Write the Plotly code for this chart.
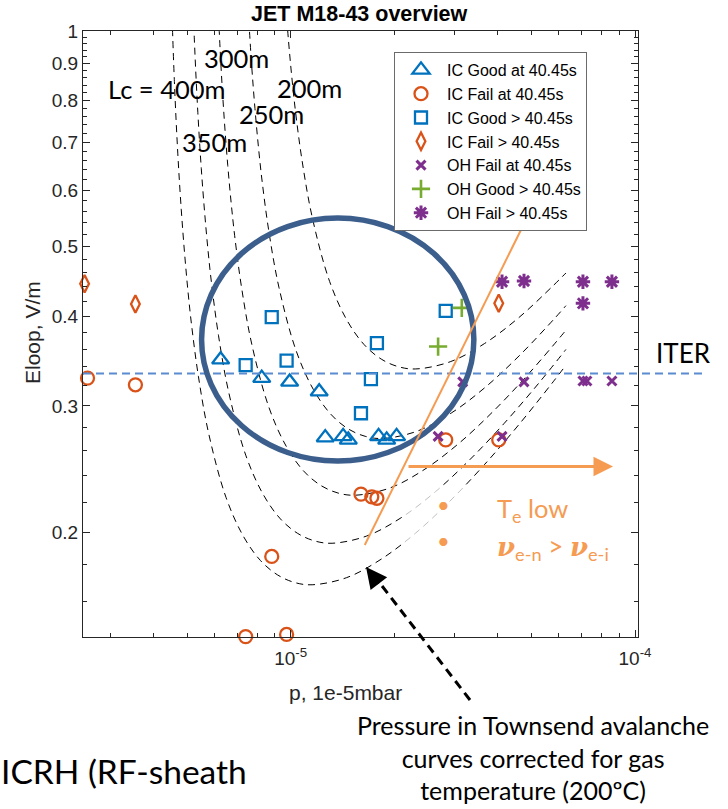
import plotly.graph_objects as go

# ---------------- data ----------------
# Townsend avalanche curves, p [mbar-ish units as on the axis], Eloop [V/m]
LC200_P = [0.9622e-5, 0.9846e-5, 1.0075e-5, 1.031e-5, 1.0795e-5, 1.1568e-5, 1.2978e-5, 1.4563e-5,
           1.6338e-5, 1.8332e-5, 2.0571e-5, 2.308e-5, 2.9055e-5, 3.658e-5, 4.605e-5, 5.797e-5, 6.3e-5]
LC200_E = [1.126, 0.9742, 0.8624, 0.7773, 0.6587, 0.5479, 0.4472, 0.3951,
           0.3653, 0.3486, 0.3402, 0.3378, 0.3457, 0.3666, 0.3986, 0.4418, 0.4597]

LC250_P = [0.7521e-5, 0.7696e-5, 0.7875e-5, 0.8058e-5, 0.8246e-5, 0.8634e-5, 0.9252e-5, 1.038e-5,
           1.1648e-5, 1.3068e-5, 1.4663e-5, 1.6453e-5, 1.846e-5, 2.324e-5, 2.926e-5, 3.683e-5,
           4.637e-5, 5.838e-5, 6.3e-5]
LC250_E = [1.078, 0.9008, 0.7793, 0.6898, 0.6217, 0.5269, 0.4383, 0.3577,
           0.3160, 0.2922, 0.2788, 0.2721, 0.2702, 0.2765, 0.2932, 0.3188,
           0.3534, 0.3972, 0.4139]

LC300_P = [0.6127e-5, 0.6270e-5, 0.6416e-5, 0.6565e-5, 0.6718e-5, 0.6875e-5, 0.7198e-5, 0.7713e-5,
           0.8654e-5, 0.9711e-5, 1.0895e-5, 1.2224e-5, 1.3717e-5, 1.539e-5, 1.9374e-5, 2.4392e-5,
           3.0708e-5, 3.8658e-5, 4.8668e-5, 6.127e-5, 6.3e-5]
LC300_E = [1.134, 0.8985, 0.7508, 0.6495, 0.5749, 0.5182, 0.4391, 0.3653,
           0.2982, 0.2634, 0.2435, 0.2324, 0.2268, 0.2252, 0.2304, 0.2444,
           0.2657, 0.2945, 0.3310, 0.3764, 0.3826]

LC350_P = [0.5131e-5, 0.5251e-5, 0.5374e-5, 0.5499e-5, 0.5627e-5, 0.5757e-5, 0.5892e-5, 0.6169e-5,
           0.6611e-5, 0.7417e-5, 0.8323e-5, 0.9337e-5, 1.0477e-5, 1.1756e-5, 1.319e-5, 1.6605e-5,
           2.0905e-5, 2.6318e-5, 3.3132e-5, 4.1711e-5, 5.2511e-5, 6.3e-5]
LC350_E = [1.341, 0.9718, 0.7701, 0.6435, 0.5566, 0.4927, 0.4441, 0.3764,
           0.3130, 0.2555, 0.2257, 0.2087, 0.1992, 0.1944, 0.1930, 0.1975,
           0.2094, 0.2277, 0.2524, 0.2837, 0.3226, 0.3596]

LC400_P = [0.4489e-5, 0.4594e-5, 0.4701e-5, 0.4811e-5, 0.4923e-5, 0.5037e-5, 0.5155e-5, 0.5397e-5,
           0.5784e-5, 0.6489e-5, 0.7282e-5, 0.8169e-5, 0.9166e-5, 1.0286e-5, 1.154e-5, 1.4528e-5,
           1.829e-5, 2.3026e-5, 2.8987e-5, 3.6493e-5, 4.5942e-5, 5.7837e-5, 6.3e-5]
LC400_E = [1.174, 0.8504, 0.6739, 0.5631, 0.4871, 0.4312, 0.3886, 0.3294,
           0.2740, 0.2236, 0.1975, 0.1826, 0.1743, 0.1701, 0.1689, 0.1728,
           0.1833, 0.1993, 0.2209, 0.2483, 0.2823, 0.3241, 0.3419]

# measurement points
IC_GOOD_AT_P = [6.26e-6, 8.24e-6, 9.93e-6, 1.21e-5, 1.26e-5, 1.42e-5, 1.47e-5, 1.80e-5, 1.90e-5, 2.03e-5]
IC_GOOD_AT_E = [0.348, 0.328, 0.324, 0.314, 0.271, 0.272, 0.269, 0.272, 0.269, 0.272]

IC_FAIL_AT_P = [2.57e-6, 3.54e-6, 1.60e-5, 1.72e-5, 1.78e-5, 8.81e-6, 7.40e-6, 9.73e-6, 2.82e-5, 4.02e-5]
IC_FAIL_AT_E = [0.328, 0.321, 0.226, 0.224, 0.223, 0.185, 0.143, 0.144, 0.269, 0.269]

IC_GOOD_GT_P = [8.81e-6, 7.40e-6, 9.73e-6, 1.78e-5, 1.71e-5, 1.60e-5, 2.82e-5]
IC_GOOD_GT_E = [0.399, 0.342, 0.347, 0.367, 0.327, 0.293, 0.407]

IC_FAIL_GT_P = [2.52e-6, 3.54e-6, 4.02e-5]
IC_FAIL_GT_E = [0.444, 0.416, 0.417]

OH_FAIL_AT_P = [3.16e-5, 4.76e-5, 7.06e-5, 7.25e-5, 8.57e-5, 2.68e-5, 4.11e-5]
OH_FAIL_AT_E = [0.324, 0.324, 0.325, 0.325, 0.325, 0.272, 0.272]

OH_GOOD_GT_P = [3.14e-5, 2.68e-5]
OH_GOOD_GT_E = [0.411, 0.363]

OH_FAIL_GT_P = [4.11e-5, 4.76e-5, 7.06e-5, 8.57e-5, 7.06e-5]
OH_FAIL_GT_E = [0.447, 0.448, 0.447, 0.447, 0.417]

ITER_E = 0.333

# overlay region (ellipse) and orange boundary line, in data units
ELLIPSE_P = [5.51e-6, 3.404e-5]
ELLIPSE_E = [0.2513, 0.5484]
BOUNDARY_P = [1.641e-5, 4.694e-5]
BOUNDARY_E = [0.1919, 0.5311]
DIM_P = [2.145e-5, 9.67e-5]
DIM_E = [0.1743, 0.2326]

Y_TICKS = [0.2, 0.3, 0.4, 0.5, 0.6, 0.7, 0.8, 0.9, 1.0]
Y_TICKTEXT = ["0.2", "0.3", "0.4", "0.5", "0.6", "0.7", "0.8", "0.9", "1"]
X_TICKS = [1e-5, 1e-4]
X_TICKTEXT = ["10<sup>-5</sup>", "10<sup>-4</sup>"]

# ---------------- layout helpers ----------------
W, H = 728, 809
ML, MR, MT, MB = 83, 90, 31, 172
PW = W - ML - MR
PH = H - MT - MB


def px(x):
    return (x - ML) / PW


def py(y):
    return 1 - (y - MT) / PH


AX = "#262626"
ORANGE = "#F59B52"
BLUE = "#0072BD"
RED = "#D95319"
PURPLE = "#7E2F8E"
GREEN = "#77AC30"
SANS = "Liberation Sans, Arial, sans-serif"
CAL = "Lato, Open Sans, sans-serif"

fig = go.Figure()

for P, E in [(LC200_P, LC200_E), (LC250_P, LC250_E), (LC300_P, LC300_E),
             (LC350_P, LC350_E), (LC400_P, LC400_E)]:
    fig.add_trace(go.Scatter(x=P, y=E, mode="lines", showlegend=False, hoverinfo="skip",
                             line=dict(color="black", width=1, dash="7px,5px", shape="spline")))

series = [
    ("IC Good at 40.45s", IC_GOOD_AT_P, IC_GOOD_AT_E, "triangle-up-open", 15, BLUE, 2.3),
    ("IC Fail at 40.45s", IC_FAIL_AT_P, IC_FAIL_AT_E, "circle-open", 13, RED, 2.3),
    ("IC Good > 40.45s", IC_GOOD_GT_P, IC_GOOD_GT_E, "square-open", 12, BLUE, 2.3),
    ("IC Fail > 40.45s", IC_FAIL_GT_P, IC_FAIL_GT_E, "diamond-tall-open", 12.5, RED, 2.3),
    ("OH Fail at 40.45s", OH_FAIL_AT_P, OH_FAIL_AT_E, "x-thin-open", 9, PURPLE, 3),
    ("OH Good > 40.45s", OH_GOOD_GT_P, OH_GOOD_GT_E, "cross-thin-open", 13, GREEN, 2.6),
    ("OH Fail > 40.45s", OH_FAIL_GT_P, OH_FAIL_GT_E, "asterisk-open", 12, PURPLE, 3),
]
for name, P, E, sym, size, col, lw in series:
    fig.add_trace(go.Scatter(x=P, y=E, mode="markers", name=name, cliponaxis=False,
                             marker=dict(symbol=sym, size=size, color=col,
                                         line=dict(color=col, width=lw))))

minor_x = [k * 1e-6 for k in range(3, 10)] + [k * 1e-5 for k in range(2, 10)]
minor_y = [round(0.14 + 0.02 * k, 2) for k in range(0, 43)]
minor_y = [v for v in minor_y if v not in Y_TICKS and v <= 1.0]

axis_common = dict(showgrid=False, zeroline=False, showline=True, linecolor=AX, linewidth=1,
                   mirror="ticks", ticks="inside", ticklen=7, tickwidth=1, tickcolor=AX,
                   tickfont=dict(family=SANS, size=19, color=AX))

fig.update_layout(
    width=W, height=H, margin=dict(l=ML, r=MR, t=MT, b=MB),
    paper_bgcolor="white", plot_bgcolor="white",
    xaxis=dict(type="log", range=[-5.6032, -3.9913], tickmode="array", tickvals=X_TICKS,
               ticktext=X_TICKTEXT, ticklabelstandoff=4,
               minor=dict(ticks="inside", ticklen=4, tickcolor=AX, tickmode="array", tickvals=minor_x),
               **axis_common),
    yaxis=dict(type="log", range=[-0.8452, 0], tickmode="array", tickvals=Y_TICKS,
               ticktext=Y_TICKTEXT,
               minor=dict(ticks="inside", ticklen=4, tickcolor=AX, tickmode="array", tickvals=minor_y),
               **axis_common),
    legend=dict(x=px(394), y=py(52), xanchor="left", yanchor="top", bgcolor="white",
                bordercolor="#6b6b6b", borderwidth=1, itemwidth=42,
                font=dict(family=SANS, size=16, color="black"), tracegroupgap=0),
    showlegend=True,
)

shapes = [
    dict(type="rect", xref="x", yref="y", x0=DIM_P[0], x1=DIM_P[1], y0=DIM_E[0], y1=DIM_E[1],
         fillcolor="white", opacity=0.75, line=dict(width=0), layer="above"),
    dict(type="line", xref="paper", yref="y", x0=0, x1=px(703), y0=ITER_E, y1=ITER_E,
         line=dict(color="#5B8BD0", width=2, dash="8px,5px"), layer="above"),
    dict(type="circle", xref="x", yref="y", x0=ELLIPSE_P[0], x1=ELLIPSE_P[1],
         y0=ELLIPSE_E[0], y1=ELLIPSE_E[1], line=dict(color="#3B5E8C", width=5.5), layer="above"),
    dict(type="line", xref="x", yref="y", x0=BOUNDARY_P[0], x1=BOUNDARY_P[1],
         y0=BOUNDARY_E[0], y1=BOUNDARY_E[1], line=dict(color=ORANGE, width=2), layer="above"),
    dict(type="line", xref="paper", yref="paper", x0=px(470), y0=py(700), x1=px(379), y1=py(582),
         line=dict(color="black", width=3, dash="9px,6px"), layer="above"),
]
fig.update_layout(shapes=shapes)

ann = []


def text(t, x, y, size, family=CAL, color="black", xanchor="left", yanchor="middle", **kw):
    ann.append(dict(text=t, x=px(x), y=py(y), xref="paper", yref="paper", showarrow=False,
                    xanchor=xanchor, yanchor=yanchor, font=dict(family=family, size=size, color=color),
                    **kw))


text("<b>JET M18-43 overview</b>", 359, 14, 21.5, family=SANS, xanchor="center")
text("Eloop, V/m", 33, 333, 21, family=SANS, color=AX, xanchor="center", textangle=-90)
text("p, 1e-5mbar", 345, 692, 21, family=SANS, color=AX, xanchor="center")

text("Lc = 400m", 106, 89, 25.5)
text("300m", 202, 58, 25.5)
text("200m", 275, 88, 25.5)
text("250m", 237, 114, 25.5)
text("350m", 180, 142, 25.5)
text("ITER", 654, 353, 26)

text("•", 443, 504, 22, color=ORANGE, xanchor="center")
text("•", 443, 540, 22, color=ORANGE, xanchor="center")
text("T<sub>e</sub> low", 495, 510, 25.5, color=ORANGE)
text("<span style=\"font-family:'DejaVu Serif'\"><b><i>ν</i></b></span><sub>e-n</sub> &gt; "
     "<span style=\"font-family:'DejaVu Serif'\"><b><i>ν</i></b></span><sub>e-i</sub>",
     495, 547, 26, color=ORANGE)

text("Pressure in Townsend avalanche<br>curves corrected for gas<br>temperature (200ºC)",
     533, 757, 25, xanchor="center", align="center")
text("ICRH (RF-sheath", -1, 771, 33.5)

ann.append(dict(text="", x=px(613), y=py(466.5), xref="paper", yref="paper", showarrow=True,
                ax=-206, ay=0, axref="pixel", ayref="pixel", arrowhead=2, arrowsize=1.3,
                arrowwidth=3, arrowcolor=ORANGE, standoff=0))
ann.append(dict(text="", x=px(366), y=py(567), xref="paper", yref="paper", showarrow=True,
                ax=14, ay=18, arrowhead=2, arrowsize=1.4, arrowwidth=3,
                arrowcolor="black", standoff=0))
fig.update_layout(annotations=ann)

fig.write_html("out.html")
